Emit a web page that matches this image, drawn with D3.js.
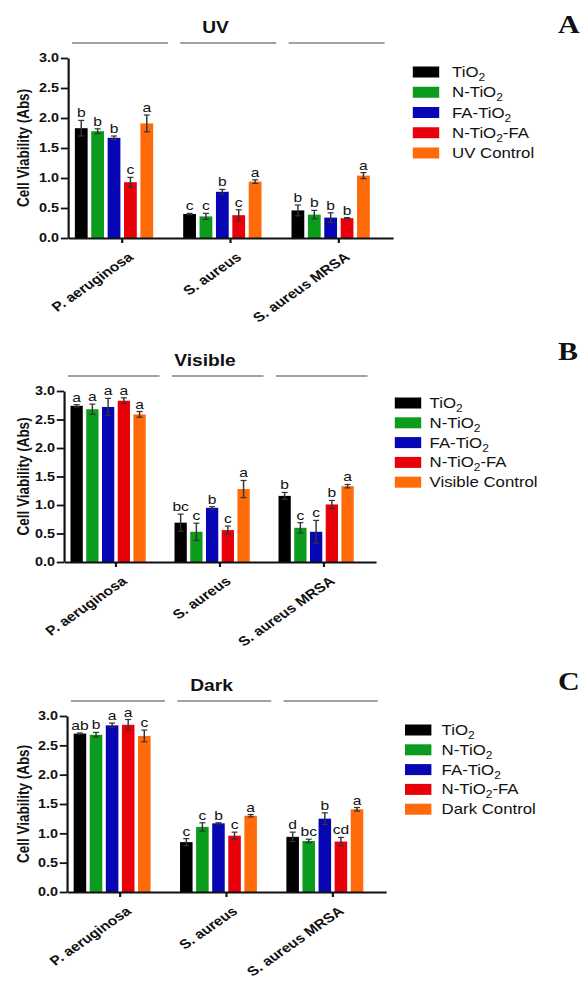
<!DOCTYPE html>
<html>
<head>
<meta charset="utf-8">
<script src="https://cdn.jsdelivr.net/npm/d3@7"></script>
<style>
  body { margin: 0; background: #fff; }
  svg { display: block; font-family: "Liberation Sans", Arial, Helvetica, sans-serif; }
</style>
</head>
<body>
<div id="graph"></div>
<script>
// bacteria groups and treatments
const groups = ["P. aeruginosa", "S. aureus", "S. aureus MRSA"];
const treatments = ["TiO_2", "N-TiO_2", "FA-TiO_2", "N-TiO_2-FA"];
const colors = ["#000000", "#0b9b1d", "#0606b4", "#e8000b", "#ff6a0a"];
const yTicks = [0, 0.5, 1, 1.5, 2, 2.5, 3];

// UV panel (rows = groups, columns = treatments + control)
const uvValues = [
	[1.83, 1.78, 1.67, 0.93, 1.91],
	[0.40, 0.36, 0.77, 0.38, 0.94],
	[0.46, 0.39, 0.34, 0.33, 1.04],
];
const uvErrors = [
	[0.13, 0.04, 0.03, 0.08, 0.14],
	[0.01, 0.05, 0.04, 0.09, 0.03],
	[0.09, 0.07, 0.08, 0.01, 0.05],
];
const uvLetters = [
	["b", "b", "b", "c", "a"],
	["c", "c", "b", "c", "a"],
	["b", "b", "b", "b", "a"],
];

// Visible panel
const visValues = [
	[2.74, 2.68, 2.72, 2.83, 2.59],
	[0.69, 0.53, 0.95, 0.56, 1.28],
	[1.16, 0.60, 0.53, 1.01, 1.33],
];
const visErrors = [
	[0.02, 0.09, 0.15, 0.05, 0.05],
	[0.15, 0.15, 0.02, 0.07, 0.15],
	[0.06, 0.09, 0.20, 0.07, 0.03],
];
const visLetters = [
	["a", "a", "a", "a", "a"],
	["bc", "c", "b", "c", "a"],
	["b", "c", "c", "b", "a"],
];

// Dark panel
const darkValues = [
	[2.70, 2.68, 2.84, 2.85, 2.66],
	[0.85, 1.11, 1.17, 0.96, 1.30],
	[0.94, 0.87, 1.25, 0.86, 1.41],
];
const darkErrors = [
	[0.01, 0.04, 0.04, 0.09, 0.10],
	[0.06, 0.07, 0.01, 0.06, 0.02],
	[0.08, 0.03, 0.10, 0.07, 0.03],
];
const darkLetters = [
	["ab", "b", "a", "a", "c"],
	["c", "c", "b", "c", "a"],
	["d", "bc", "b", "cd", "a"],
];

// the source figure is stretched sideways by about 1.2
const width = 584;
const height = 982;
const stretch = 1.2;

const svg = d3
	.select("#graph")
	.append("svg")
	.attr("width", width)
	.attr("height", height)
	.attr("viewBox", [0, 0, width / stretch, height])
	.attr("preserveAspectRatio", "none");

// write "TiO_2" with a subscript 2
function richText(sel, label, subSize) {
	const parts = label.split(/_(\d)/);
	parts.forEach((p, i) => {
		if (p === "") return;
		if (i % 2 === 1) {
			sel.append("tspan").attr("font-size", subSize).attr("dy", 4).text(p);
		} else {
			const t = sel.append("tspan").text(p);
			if (i > 0) t.attr("dy", -4);
		}
	});
}

function Panel({ values, errors, letters, title, control, letter, left, right, top, bottom, legend, letterY }) {
	const g = svg.append("g");

	const x0 = d3.scaleBand(groups, [left, right]);
	const bw = x0.bandwidth();
	const x1 = d3
		.scaleBand(d3.range(5), [bw * 0.063, bw * 0.786])
		.paddingInner(0.22);
	const y = d3.scaleLinear([0, 3], [bottom, top]);

	// bars
	const grp = g
		.selectAll("g.grp")
		.data(groups)
		.join("g")
		.attr("transform", (d) => `translate(${x0(d)},0)`);

	grp
		.selectAll("rect")
		.data((d, i) => values[i].map((v, j) => ({ v, j })))
		.join("rect")
		.attr("x", (d) => x1(d.j))
		.attr("y", (d) => y(d.v))
		.attr("width", x1.bandwidth())
		.attr("height", (d) => y(0) - y(d.v))
		.attr("fill", (d) => colors[d.j]);

	// error bars
	const eb = grp
		.selectAll("g.err")
		.data((d, i) => values[i].map((v, j) => ({ v, j, e: errors[i][j], l: letters[i][j] })))
		.join("g")
		.attr("stroke", "#333")
		.attr("stroke-width", 1.2);
	const cx = (d) => x1(d.j) + x1.bandwidth() / 2;
	eb.append("line")
		.attr("x1", cx).attr("x2", cx)
		.attr("y1", (d) => y(d.v - d.e)).attr("y2", (d) => y(d.v + d.e));
	eb.append("line")
		.attr("x1", (d) => cx(d) - 2.5).attr("x2", (d) => cx(d) + 2.5)
		.attr("y1", (d) => y(d.v + d.e)).attr("y2", (d) => y(d.v + d.e));
	eb.append("line")
		.attr("x1", (d) => cx(d) - 2.5).attr("x2", (d) => cx(d) + 2.5)
		.attr("y1", (d) => y(d.v - d.e)).attr("y2", (d) => y(d.v - d.e));

	// significance letters
	grp
		.selectAll("text.sig")
		.data((d, i) => values[i].map((v, j) => ({ v, j, e: errors[i][j], l: letters[i][j] })))
		.join("text")
		.attr("x", cx)
		.attr("y", (d) => y(d.v + d.e) - 3)
		.attr("text-anchor", "middle")
		.attr("font-size", 13)
		.attr("fill", "#111")
		.text((d) => d.l);

	// y axis
	g.append("g")
		.attr("transform", `translate(${left},0)`)
		.call(
			d3.axisLeft(y).tickValues(yTicks).tickFormat(d3.format(".1f")).tickSize(6).tickPadding(1.5).tickSizeOuter(0)
		)
		.call((a) => a.selectAll("path, line").attr("stroke", "#111").attr("stroke-width", 1.8))
		.call((a) => a.selectAll("text").attr("font-size", 12).attr("font-weight", "bold").attr("fill", "#111").attr("font-family", null));

	g.append("text")
		.attr("transform", `translate(24,${(top + bottom) / 2}) rotate(-90)`)
		.attr("text-anchor", "middle")
		.attr("font-size", 13.5)
		.attr("font-weight", "bold")
		.attr("fill", "#111")
		.text("Cell Viability (Abs)");

	// x axis
	g.append("g")
		.attr("transform", `translate(0,${bottom})`)
		.call(d3.axisBottom(x0).tickSize(5).tickSizeOuter(0))
		.call((a) => a.selectAll("path, line").attr("stroke", "#111").attr("stroke-width", 1.8))
		.call((a) =>
			a.selectAll("text")
				.attr("font-size", 13)
				.attr("font-weight", "bold")
				.attr("fill", "#111")
				.attr("font-family", null)
				.attr("text-anchor", "end")
				.attr("x", 0)
				.attr("y", 0)
				.attr("dy", "0.35em")
				.attr("transform", "translate(7,17) rotate(-40)")
		);

	// group lines above the plot
	g.append("g")
		.selectAll("line")
		.data(groups)
		.join("line")
		.attr("x1", (d) => x0(d) + 3.3)
		.attr("x2", (d) => x0(d) + bw - 7)
		.attr("y1", top - 15)
		.attr("y2", top - 15)
		.attr("stroke", "#444")
		.attr("stroke-width", 1.2);

	g.append("text")
		.attr("x", (left - 25 + right) / 2)
		.attr("y", top - 25)
		.attr("text-anchor", "middle")
		.attr("font-size", 16)
		.attr("font-weight", "bold")
		.attr("fill", "#111")
		.text(title);

	// legend
	const labels = treatments.concat([control]);
	const lg = g
		.append("g")
		.selectAll("g")
		.data(labels)
		.join("g")
		.attr("transform", (d, i) => `translate(0,${legend.y0 + i * legend.step})`);
	lg.append("rect")
		.attr("x", legend.x)
		.attr("y", -5.5)
		.attr("width", 22)
		.attr("height", 11)
		.attr("fill", (d, i) => colors[i]);
	lg.append("text")
		.attr("x", legend.textX)
		.attr("y", 5)
		.attr("font-size", 14)
		.attr("fill", "#111")
		.each(function (d) {
			richText(d3.select(this), d, 10);
		});

	// panel letter
	svg.append("text")
		.attr("x", 465)
		.attr("y", letterY)
		.attr("font-family", "'Liberation Serif', 'Times New Roman', serif")
		.attr("font-size", 25)
		.attr("font-weight", "bold")
		.attr("fill", "#111")
		.text(letter);
}

Panel({
	values: uvValues, errors: uvErrors, letters: uvLetters,
	title: "UV", control: "UV Control", letter: "A",
	left: 56.7, right: 327.5, top: 58, bottom: 238,
	legend: { x: 344, y0: 72, step: 20.25, textX: 376.7 },
	letterY: 33,
});

Panel({
	values: visValues, errors: visErrors, letters: visLetters,
	title: "Visible", control: "Visible Control", letter: "B",
	left: 53.3, right: 313.3, top: 391, bottom: 562,
	legend: { x: 329, y0: 403, step: 19.8, textX: 358 },
	letterY: 360,
});

Panel({
	values: darkValues, errors: darkErrors, letters: darkLetters,
	title: "Dark", control: "Dark Control", letter: "C",
	left: 55.8, right: 321.7, top: 716, bottom: 892,
	legend: { x: 337.5, y0: 730, step: 19.8, textX: 368 },
	letterY: 690,
});
</script>
</body>
</html>
